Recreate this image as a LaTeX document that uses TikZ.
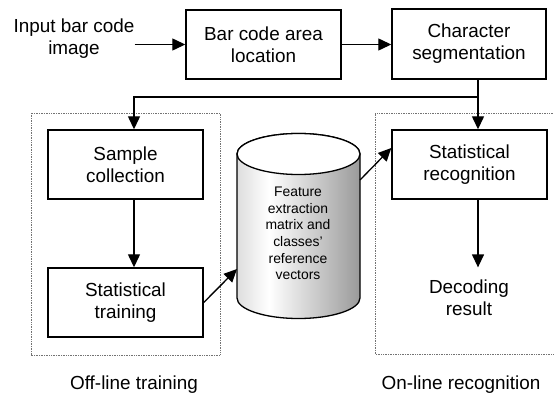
\documentclass[tikz,border=0pt]{standalone}
\usepackage{fontspec}
\setmainfont{Liberation Sans}
\usetikzlibrary{arrows.meta}
\definecolor{cylL}{HTML}{DEDEDE}
\definecolor{cylR}{HTML}{9A9A9A}
% light band a little left of the middle of the drum
\pgfdeclarehorizontalshading{cylshade}{100bp}{color(0bp)=(cylL); color(25bp)=(cylL); color(38bp)=(white); color(75bp)=(cylR); color(100bp)=(cylR)}

\begin{document}
\begin{tikzpicture}[x=1pt,y=-1pt,
  every node/.style={font=\fontsize{18.9}{22}\selectfont, align=center},
  procbox/.style={draw, line width=1.4pt, minimum width=155pt, minimum height=69pt, inner sep=0pt},
  flow/.style={line width=1.3pt, -{Triangle[length=13pt,width=12pt]}},
  group/.style={densely dotted, line width=0.7pt, draw=black!55},
  plain/.style={inner sep=0pt}]
\useasboundingbox (0,0) rectangle (554,401);

% dotted frames of the two phases
\draw[group] (31,113) rectangle (220,355);
\draw[group] (558,113) -- (375,113) -- (375,354) -- (558,354);

% processing steps
\node[plain] (input) at (74,39) {Input bar code\\image};
\node[procbox] (locate) at (263.5,44.5) {Bar code area\\location};
\node[procbox, minimum width=154pt, minimum height=70pt] (segment) at (469,44) {Character\\segmentation};
\node[procbox] (sample) at (125.5,164.5) {Sample\\collection};
\node[procbox] (train) at (125.5,302.5) {Statistical\\training};
\node[procbox] (recog) at (469.5,164.5) {Statistical\\recognition};
\node[inner xsep=0pt, inner ysep=12pt] (decode) at (469,297.5) {Decoding\\result};

% phase captions
\node[plain] (offl) at (134,385) {Off-line training};
\node[plain] (onl) at (461,385) {On-line recognition};

% data store drum
\path[shading=cylshade, draw, line width=1.3pt]
  (237,154) -- (237,298)
  arc[start angle=180, end angle=360, x radius=61.5pt, y radius=20.5pt]
  -- (360,154)
  arc[start angle=0, end angle=180, x radius=61.5pt, y radius=20.5pt] -- cycle;
\draw[fill=white, line width=1.3pt] (298.5,154) ellipse [x radius=61.5pt, y radius=20.5pt];
\node[font=\fontsize{13.9}{16.6}\selectfont, inner sep=0pt] (store) at (298,233.5)
  {Feature\\extraction\\matrix and\\classes'\\reference\\vectors};

\coordinate (storein) at (237,269);
\coordinate (storeout) at (360,180);
\coordinate (split) at (478,97);

% connectors
\draw[flow] (input.east |- locate.west) -- (locate.west);
\draw[flow] (locate.east) -- (locate.east -| segment.west);
\draw[flow] ([xshift=9pt]segment.south) -- ([xshift=8.5pt]recog.north);
\draw[flow] (split) -| ([xshift=8.5pt]sample.north);
\draw[flow] ([xshift=8.5pt]sample.south) -- ([xshift=8.5pt]train.north);
\draw[flow] (train.east) -- (storein);
\draw[flow] (storeout) -- ([yshift=16.5pt]recog.west);
\draw[flow] ([xshift=8.5pt]recog.south) -- (decode.north -| split);
\end{tikzpicture}
\end{document}
